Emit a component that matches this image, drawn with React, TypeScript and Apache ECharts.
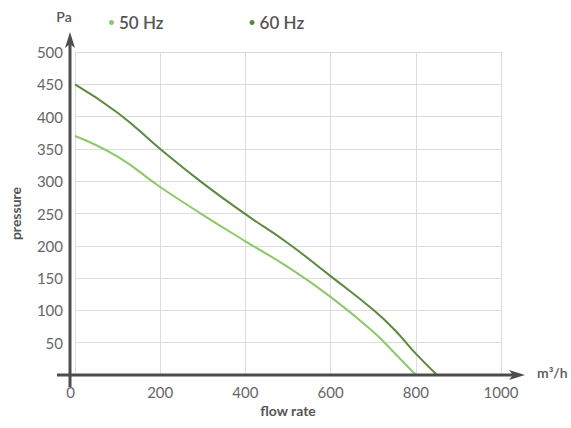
import React, { useEffect, useRef } from "react";
import * as echarts from "echarts";

const flowRate60 = [0, 100, 200, 300, 400, 500, 600, 700, 750, 800, 850];
const pressure60 = [450, 406, 350, 297, 249, 204, 153, 101, 70, 33, 0];
const flowRate50 = [0, 100, 200, 300, 400, 500, 600, 700, 750, 800];
const pressure50 = [370, 338, 291, 248, 207, 167, 121, 67, 34, 0];
const seriesNames = ["50 Hz", "60 Hz"];
const colors = ["#8cc96a", "#5b8a3f"];

const FONT = "Lato";
const AXIS = "#4d4d4d";

export default function App() {
  const ref = useRef<HTMLDivElement>(null);
  useEffect(() => {
    if (!ref.current) return;
    const chart = echarts.init(ref.current, undefined, { renderer: "svg" });
    const zip = (xs: number[], ys: number[]) => xs.map((x, i) => [x, ys[i]]);
    chart.setOption({
      animation: false,
      textStyle: { fontFamily: FONT },
      legend: {
        left: 104,
        top: 9,
        icon: "circle",
        itemWidth: 5,
        itemHeight: 5,
        itemGap: 86,
        textStyle: { fontSize: 17, color: "#555", fontFamily: FONT, fontWeight: 600 },
        data: seriesNames,
      },
      grid: { left: 70, right: 70, top: 52, bottom: 53, containLabel: false },
      xAxis: {
        type: "value",
        min: 0,
        max: 1000,
        interval: 200,
        axisLine: { show: false },
        axisTick: { show: false },
        splitLine: { show: true, lineStyle: { color: "#dcdcdc", width: 1 } },
        axisLabel: {
          color: "#666",
          fontSize: 15,
          margin: 9,
          fontFamily: FONT,
          alignMinLabel: "right",
          formatter: (v: number) => String(v),
        },
        name: "flow rate",
        nameLocation: "middle",
        nameGap: 24,
        nameTextStyle: { color: "#555", fontSize: 14, fontWeight: "bold", fontFamily: FONT },
      },
      yAxis: {
        type: "value",
        min: 0,
        max: 500,
        interval: 50,
        axisLine: { show: false },
        axisTick: { show: false },
        splitLine: { show: true, lineStyle: { color: "#dcdcdc", width: 1 } },
        axisLabel: {
          color: "#666",
          fontSize: 15,
          margin: 12,
          fontFamily: FONT,
          formatter: (v: number) => (v === 0 ? "" : String(v)),
        },
        name: "pressure",
        nameLocation: "middle",
        nameGap: 53,
        nameRotate: 90,
        nameTextStyle: { color: "#555", fontSize: 14, fontWeight: "bold", fontFamily: FONT },
      },
      graphic: [
        { type: "line", shape: { x1: 70, y1: 387, x2: 70, y2: 40 }, style: { stroke: AXIS, lineWidth: 3 }, z: 100 },
        { type: "polygon", shape: { points: [[70, 32], [75, 48], [70, 44], [65, 48]] }, style: { fill: AXIS }, z: 100 },
        { type: "line", shape: { x1: 57, y1: 375, x2: 516, y2: 375 }, style: { stroke: AXIS, lineWidth: 3 }, z: 100 },
        { type: "polygon", shape: { points: [[525, 375], [509, 370], [513, 375], [509, 380]] }, style: { fill: AXIS }, z: 100 },
        { type: "text", x: 64, y: 16, style: { text: "Pa", fill: "#555", font: `600 14px ${FONT}`, align: "center", verticalAlign: "middle" } },
        { type: "text", x: 537, y: 372, style: { text: "m³/h", fill: "#555", font: `600 14px ${FONT}`, align: "left", verticalAlign: "middle" } },
      ],
      series: [
        {
          name: seriesNames[0],
          type: "line",
          smooth: 0.5,
          showSymbol: false,
          data: zip(flowRate50, pressure50),
          lineStyle: { color: colors[0], width: 2 },
          itemStyle: { color: colors[0] },
        },
        {
          name: seriesNames[1],
          type: "line",
          smooth: 0.5,
          showSymbol: false,
          data: zip(flowRate60, pressure60),
          lineStyle: { color: colors[1], width: 2 },
          itemStyle: { color: colors[1] },
        },
      ],
    });
    return () => chart.dispose();
  }, []);
  return <div ref={ref} style={{ width: 571, height: 428, position: "absolute", left: 0, top: 0 }} />;
}
